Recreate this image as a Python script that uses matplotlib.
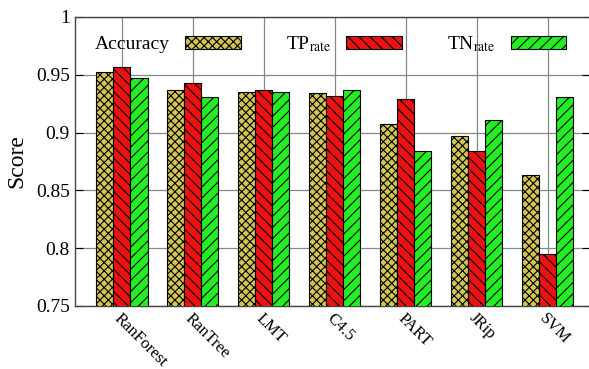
import matplotlib
matplotlib.use('Agg')
import matplotlib.pyplot as plt
import numpy as np

plt.rcParams['font.family'] = 'Liberation Serif'
plt.rcParams['mathtext.fontset'] = 'stix'
plt.rcParams['hatch.linewidth'] = 0.8

classifiers = ['RanForest', 'RanTree', 'LMT', 'C4.5', 'PART', 'JRip', 'SVM']
accuracy = [0.952, 0.937, 0.935, 0.934, 0.907, 0.897, 0.863]
tp_rate = [0.957, 0.943, 0.937, 0.932, 0.929, 0.884, 0.795]
tn_rate = [0.947, 0.931, 0.935, 0.937, 0.884, 0.911, 0.931]

fig = plt.figure(figsize=(5.89, 3.69), dpi=100)
ax = fig.add_axes([0.127, 0.171, 0.875, 0.783])

x = np.arange(len(classifiers))
w = 0.24
ax.bar(x - w, accuracy, w, color='#d2c552', edgecolor='black', hatch='xxxx',
       linewidth=0.8, label='Accuracy', zorder=3)
ax.bar(x, tp_rate, w, color='#ee1111', edgecolor='black', hatch='\\\\\\',
       linewidth=0.8, label=r'TP$_{\mathrm{rate}}$', zorder=3)
ax.bar(x + w, tn_rate, w, color='#22ee22', edgecolor='black', hatch='///',
       linewidth=0.8, label=r'TN$_{\mathrm{rate}}$', zorder=3)

ax.set_ylim(0.75, 1.0)
ax.set_xlim(-0.665, 6.6)
ax.set_yticks([0.75, 0.8, 0.85, 0.9, 0.95, 1.0])
ax.set_yticklabels(['0.75', '0.8', '0.85', '0.9', '0.95', '1'])
ax.set_xticks(x)
ax.set_xticklabels(classifiers, rotation=-45, ha='left', va='top', rotation_mode='anchor')
ax.tick_params(axis='y', direction='in', labelsize=14, right=True, length=6)
ax.tick_params(axis='x', length=0, pad=3, labelsize=12)
ax.grid(True, color='#888888', linewidth=0.9, zorder=0)
ax.set_axisbelow(True)
for s in ax.spines.values():
    s.set_linewidth(1.0)
    s.set_color('#444444')

ax.set_ylabel('Score', fontsize=17, labelpad=6)

leg = ax.legend(ncol=3, loc='upper left', bbox_to_anchor=(0.005, 1.0), frameon=False,
                markerfirst=False, fontsize=14, handlelength=2.85, handleheight=0.7,
                columnspacing=2.3, handletextpad=0.8)

fig.savefig('out.png', dpi=100)
